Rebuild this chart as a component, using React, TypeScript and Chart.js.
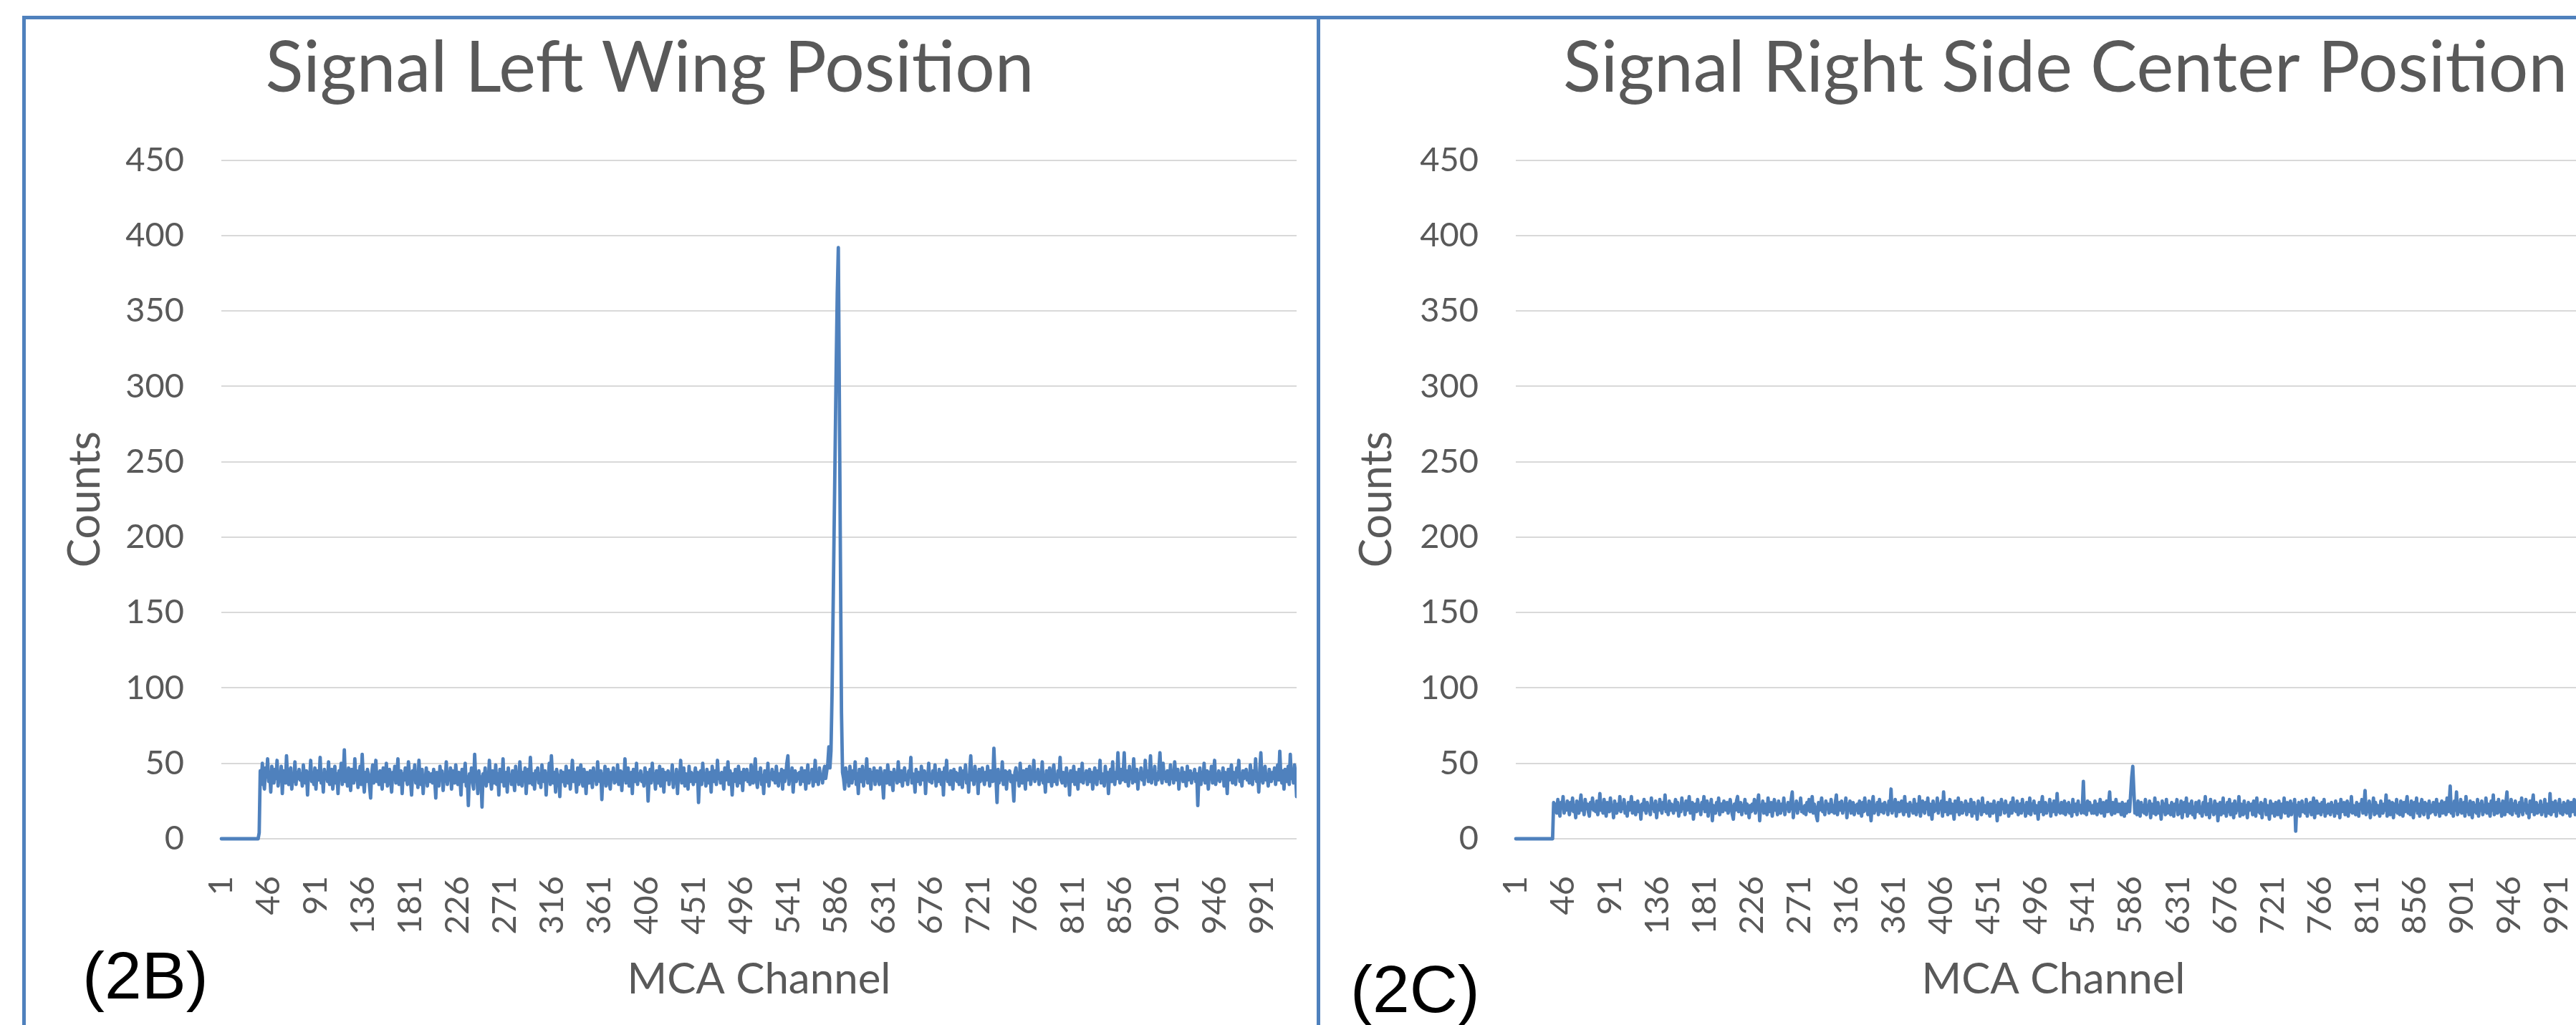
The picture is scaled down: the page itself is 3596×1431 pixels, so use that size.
import React, { useEffect, useRef } from 'react';
import { Chart, registerables } from 'chart.js';

Chart.register(...registerables);

// ---------- data ----------
const CHANNELS: string[] = Array.from({ length: 1024 }, (_, i) => String(i + 1));
const X_TICK_LABELS = ['1', '46', '91', '136', '181', '226', '271', '316', '361', '406', '451', '496', '541', '586', '631', '676', '721', '766', '811', '856', '901', '946', '991'];
const Y_MIN = 0;
const Y_MAX = 450;
const Y_STEP = 50;
const LEFT_TITLE = 'Signal Left Wing Position';
const RIGHT_TITLE = 'Signal Right Side Center Position';
const X_TITLE = 'MCA Channel';
const Y_TITLE = 'Counts';
const LEFT_TAG = '(2B)';
const RIGHT_TAG = '(2C)';

const LEFT_COUNTS: number[] = [
  0,0,0,0,0,0,0,0,0,0,0,0,0,0,0,0,0,0,0,0,0,0,0,0,0,
  0,0,0,0,0,0,0,0,0,0,0,4,45,36,50,39,33,47,41,53,38,44,31,48,42,
  37,46,40,52,35,43,39,48,30,45,41,37,55,40,36,44,47,33,42,38,51,36,44,40,46,
  39,43,35,49,41,37,45,29,44,40,52,38,42,36,47,33,45,41,39,54,37,43,31,46,40,
  44,38,51,36,42,46,33,40,48,37,43,30,45,41,50,36,42,59,38,44,35,47,40,32,46,
  41,37,53,39,45,34,42,48,36,56,40,31,44,38,46,42,35,27,43,49,37,41,52,38,44,
  36,45,40,33,47,41,38,50,35,43,46,39,31,44,40,48,37,42,53,36,41,45,30,43,39,
  47,40,36,51,43,38,29,45,41,49,37,44,34,52,40,36,46,30,42,39,47,35,44,41,38,
  43,37,46,39,27,44,41,35,48,40,45,32,42,38,51,36,43,40,47,33,45,39,37,49,41,
  36,44,40,29,46,38,42,50,35,41,22,43,39,47,37,33,56,40,44,30,45,38,41,21,43,
  39,47,35,42,38,52,40,33,45,41,37,49,36,43,29,46,40,38,53,35,42,44,31,47,39,
  42,36,45,40,32,48,38,43,36,51,41,35,44,39,47,30,42,46,37,54,40,36,43,33,45,
  40,47,37,43,34,49,41,38,45,29,43,40,50,36,55,42,37,44,31,46,39,42,28,45,38,
  44,39,35,48,41,37,45,33,42,52,38,44,40,31,47,36,43,49,39,35,46,41,30,44,40,
  37,45,41,34,47,39,43,36,51,40,38,45,26,43,40,48,35,42,46,38,33,44,40,47,37,
  43,38,49,36,41,45,32,44,39,53,37,42,47,35,40,44,30,46,41,38,50,36,43,39,45,
  38,42,35,47,40,44,25,41,46,37,50,39,43,33,45,40,37,48,35,42,46,31,44,39,41,
  45,36,43,40,49,34,41,38,46,30,44,39,52,37,42,47,35,43,40,33,48,38,44,41,36,
  42,47,38,44,24,41,45,36,50,39,43,35,46,40,37,44,31,48,41,38,45,36,52,40,43,
  37,44,40,33,47,39,42,51,36,45,41,29,43,38,46,40,35,48,42,37,44,32,46,39,41,
  46,38,43,36,49,41,37,45,53,39,34,44,40,47,36,42,30,45,41,38,50,35,43,40,46,
  39,44,37,48,41,35,43,40,46,33,45,38,42,50,55,36,44,39,47,31,42,45,38,43,40,
  44,36,47,40,38,45,33,42,49,37,43,40,46,35,41,52,38,44,36,47,40,42,37,45,48,
  40,45,50,61,47,58,95,150,205,260,315,362,392,290,185,84,44,40,33,47,38,44,35,48,41,
  37,45,40,51,36,43,30,46,41,38,48,35,44,40,53,37,42,46,33,44,39,47,36,42,45,
  40,36,47,42,38,27,45,41,37,49,43,36,44,39,32,46,40,43,37,51,41,38,45,35,43,
  47,39,42,36,45,41,54,37,43,40,31,46,38,44,41,36,48,42,39,45,30,43,40,50,38,
  42,37,45,40,49,35,43,38,46,41,36,44,29,47,40,52,38,43,36,45,41,33,46,39,44,
  38,43,36,47,41,34,45,40,49,37,42,31,45,55,39,43,36,48,40,44,30,46,38,42,47,
  40,36,44,39,48,42,35,45,41,38,60,43,40,24,46,37,44,39,51,36,42,45,33,44,40,
  45,38,42,36,25,44,47,39,43,35,50,40,37,45,41,33,46,39,43,48,36,42,40,52,38,
  43,40,46,36,44,39,51,37,42,31,45,41,38,47,40,35,44,49,38,42,36,45,41,54,39,
  37,44,41,35,47,40,43,29,45,38,42,48,36,44,40,33,46,41,38,50,37,43,40,45,36,
  42,46,38,44,33,41,47,39,36,45,40,52,37,43,41,35,48,39,44,30,42,46,38,51,40,
  36,44,40,57,42,37,46,39,43,57,38,45,41,35,48,40,44,37,53,41,38,46,33,43,40,
  47,39,43,36,52,41,45,38,42,55,37,44,40,48,36,43,39,46,57,41,37,50,40,44,38,
  45,41,36,49,40,44,37,51,42,39,46,33,43,40,47,38,44,41,35,48,39,42,45,37,43,
  40,46,38,43,22,41,47,36,44,39,50,37,42,45,33,44,40,48,37,43,52,36,42,39,45,
  38,43,40,47,35,44,41,30,46,39,42,49,37,44,40,36,47,41,52,38,43,35,45,40,42,
  46,39,43,37,49,41,36,45,40,53,38,43,31,46,57,40,37,44,48,39,42,35,46,41,38,
  44,40,47,36,43,49,39,58,42,37,45,33,46,41,38,48,36,56,40,44,37,49,43,28,
];

const RIGHT_COUNTS: number[] = [
  0,0,0,0,0,0,0,0,0,0,0,0,0,0,0,0,0,0,0,0,0,0,0,0,0,
  0,0,0,0,0,0,0,0,0,0,0,24,18,23,17,26,20,15,24,21,28,17,22,19,25,
  21,16,24,19,27,18,22,14,25,20,17,23,29,19,21,16,26,20,23,18,15,24,20,27,19,
  22,18,25,16,21,30,19,23,17,26,20,15,24,21,18,27,19,22,14,25,20,17,23,19,28,
  18,23,20,26,17,21,15,24,19,22,28,17,20,24,16,21,25,18,22,13,23,19,26,20,17,
  24,19,21,16,27,20,23,18,25,14,22,19,26,21,17,24,20,29,18,22,16,25,19,23,21,
  17,22,26,19,24,15,21,18,27,20,23,16,25,19,22,28,17,21,24,13,20,23,18,26,19,
  22,16,24,20,28,18,21,25,15,23,19,26,12,22,20,17,24,19,27,16,21,23,18,25,20,
  19,24,17,22,26,20,16,13,23,19,25,28,18,21,24,16,22,19,26,17,23,20,14,22,18,
  23,19,26,17,21,24,29,12,22,19,25,17,23,20,16,27,18,22,24,15,21,26,19,23,16,
  25,20,17,23,19,27,16,22,20,24,18,21,26,31,14,22,19,25,17,23,20,27,18,21,17,
  22,16,24,19,26,18,21,28,17,23,20,15,12,24,19,22,27,18,21,16,25,20,23,17,19,
  26,18,22,17,24,29,16,21,24,19,25,17,22,20,27,14,23,19,25,17,21,24,16,22,19,
  23,17,25,20,15,24,18,27,19,22,16,25,21,12,23,28,17,22,19,24,16,26,20,18,23,
  17,24,20,22,16,25,19,33,17,23,19,26,15,21,24,18,22,25,19,16,28,18,23,20,15,
  24,19,22,17,26,20,16,23,18,28,15,22,25,19,17,24,20,27,16,23,19,13,25,18,22,
  19,27,17,23,20,25,15,31,18,22,24,16,21,26,17,23,19,13,25,21,18,27,16,22,24,
  17,22,19,25,16,23,20,18,26,15,22,24,17,21,13,25,19,23,16,27,18,22,20,17,24,
  19,15,23,20,17,25,18,22,12,24,19,16,26,20,23,17,25,18,22,15,21,24,17,27,19,
  22,18,25,16,21,23,17,26,19,22,15,24,20,17,27,16,23,19,25,17,22,20,13,24,18,
  23,28,16,21,24,17,22,19,26,15,23,18,25,20,16,30,18,22,17,24,20,17,25,16,23,
  18,24,17,22,15,26,20,18,23,16,25,19,22,17,21,38,17,23,16,25,19,24,20,17,22,
  17,25,20,16,23,18,26,17,22,24,15,21,25,18,23,31,18,16,24,20,17,26,21,18,23,
  19,16,24,18,15,23,17,22,25,18,30,41,48,32,17,23,16,25,20,15,24,18,22,17,26,
  16,22,19,25,14,23,20,17,27,16,22,24,17,21,13,25,18,23,16,26,17,22,20,16,24,
  18,15,23,20,26,16,22,17,25,14,21,24,18,27,15,23,17,22,25,16,21,14,24,18,22,
  25,17,21,15,24,18,28,16,22,23,14,26,18,21,16,25,17,23,12,22,24,16,21,27,17,
  22,15,24,18,26,16,21,23,14,25,17,22,19,28,15,23,20,16,25,17,22,14,24,19,20,
  23,16,25,19,15,27,18,22,17,24,14,23,20,26,16,22,18,13,25,17,23,20,15,24,18,
  16,25,19,14,23,18,27,17,22,24,15,21,25,16,23,18,26,5,22,17,24,15,21,25,18,
  22,17,26,15,23,18,24,16,21,27,14,22,25,17,23,19,16,24,18,26,15,22,17,23,20,
  16,24,18,22,15,25,19,17,23,14,26,18,22,24,16,21,25,15,23,18,28,17,22,20,16,
  24,18,15,23,20,26,17,22,32,16,23,18,25,14,22,19,27,16,24,17,22,18,15,25,20,
  17,23,19,29,15,22,25,16,21,24,14,23,18,26,17,22,16,25,19,15,24,18,23,28,17,
  22,16,25,18,14,24,19,27,17,23,15,22,26,18,16,24,19,23,14,25,17,22,18,24,19,
  16,26,18,23,15,22,25,17,21,24,16,27,18,23,35,17,22,15,25,19,31,16,23,18,26,
  17,22,24,15,28,18,23,16,25,19,14,24,18,22,17,26,15,23,19,25,16,22,18,27,17,
  23,18,15,25,19,29,16,22,24,17,26,18,23,15,25,19,16,24,31,18,22,17,26,16,23,
  19,25,17,22,15,24,18,27,16,23,19,26,17,22,14,25,18,23,29,16,21,24,17,22,18,
  25,16,22,18,26,15,23,19,17,30,16,24,18,22,25,15,23,19,26,17,22,16,24,18,23,
  17,25,19,15,24,18,22,26,16,23,19,17,25,15,22,24,18,16,26,19,23,17,22,18,
];

// ---------- styling ----------
const FONT = "Lato, 'Open Sans', sans-serif";
const TEXT_COLOR = '#595959';
const LINE_COLOR = '#4F81BD';
const GRID_COLOR = '#D9D9D9';
const PAGE_H = 1431;

type ChartProps = {
  left: number;
  width: number;
  yAxisWidth: number;
  rightGap: number;
  yTitlePad: number;
  title: string;
  counts: number[];
};

function SpectrumChart(p: ChartProps) {
  const ref = useRef<HTMLCanvasElement>(null);
  useEffect(() => {
    const canvas = ref.current;
    if (!canvas) return;
    const chart = new Chart(canvas, {
      type: 'line',
      data: {
        labels: CHANNELS,
        datasets: [
          {
            data: p.counts,
            borderColor: LINE_COLOR,
            borderWidth: 4.8,
            pointRadius: 0,
            pointHoverRadius: 0,
            fill: false,
            tension: 0,
            borderJoinStyle: 'round',
            borderCapStyle: 'round',
            clip: false as any,
          },
        ],
      },
      options: {
        animation: false,
        responsive: false,
        maintainAspectRatio: false,
        devicePixelRatio: 1,
        events: [],
        layout: { padding: 0 },
        plugins: {
          legend: { display: false },
          tooltip: { enabled: false },
          title: {
            display: true,
            text: p.title,
            color: TEXT_COLOR,
            font: { family: FONT, size: 98, weight: 'normal', lineHeight: 1.2 },
            padding: { top: 38, bottom: 68 },
          },
        },
        scales: {
          x: {
            type: 'category',
            offset: false,
            grid: { display: false, drawTicks: false },
            border: { display: false },
            ticks: {
              autoSkip: false,
              maxRotation: 90,
              minRotation: 90,
              padding: 52,
              color: TEXT_COLOR,
              font: { family: FONT, size: 47 },
              callback: (_v: any, i: number) => (X_TICK_LABELS.includes(CHANNELS[i]) ? CHANNELS[i] : ''),
            },
            title: {
              display: true,
              text: X_TITLE,
              color: TEXT_COLOR,
              font: { family: FONT, size: 60, lineHeight: 1.2 },
              padding: { top: 0, bottom: 27 },
            },
            afterFit: (s: any) => {
              s.height = PAGE_H - 1171;
              s.paddingLeft = 0;
              s.paddingRight = 0;
            },
          },
          y: {
            type: 'linear',
            min: Y_MIN,
            max: Y_MAX,
            grid: { color: GRID_COLOR, lineWidth: 2, drawTicks: false },
            border: { display: false },
            ticks: {
              stepSize: Y_STEP,
              padding: 52,
              color: TEXT_COLOR,
              font: { family: FONT, size: 47 },
            },
            title: {
              display: true,
              text: Y_TITLE,
              color: TEXT_COLOR,
              font: { family: FONT, size: 61, lineHeight: 1.2 },
              padding: { top: p.yTitlePad, bottom: 0 },
            },
            afterFit: (s: any) => {
              s.width = p.yAxisWidth;
              s.paddingTop = 0;
              s.paddingBottom = 0;
            },
          },
          y2: {
            type: 'linear',
            position: 'right',
            display: p.rightGap > 0,
            grid: { display: false, drawTicks: false },
            border: { display: false },
            ticks: { display: false },
            afterFit: (s: any) => {
              s.width = p.rightGap;
              s.paddingTop = 0;
              s.paddingBottom = 0;
            },
          },
        },
      } as any,
    });
    return () => chart.destroy();
  }, []);
  return (
    <canvas
      ref={ref}
      width={p.width}
      height={PAGE_H}
      style={{ position: 'absolute', left: p.left, top: 0, width: p.width, height: PAGE_H }}
    />
  );
}

const panelStyle = (left: number): React.CSSProperties => ({
  position: 'absolute',
  left,
  top: 22,
  width: 1812,
  height: 1500,
  boxSizing: 'border-box',
  border: `5px solid ${LINE_COLOR}`,
  pointerEvents: 'none',
});

const tagStyle = (left: number, top: number): React.CSSProperties => ({
  position: 'absolute',
  left,
  top,
  fontFamily: "'Liberation Sans', Arial, sans-serif",
  fontSize: 93,
  lineHeight: 1,
  color: '#000',
  whiteSpace: 'nowrap',
});

export default function App() {
  return (
    <div
      style={{
        position: 'fixed',
        left: 0,
        top: 0,
        width: 3596,
        height: PAGE_H,
        overflow: 'hidden',
        background: '#ffffff',
      }}
    >
      <SpectrumChart left={4} width={1806} yAxisWidth={305} rightGap={0} yTitlePad={79} title={LEFT_TITLE} counts={LEFT_COUNTS} />
      <SpectrumChart left={1811} width={2144} yAxisWidth={305} rightGap={338} yTitlePad={75} title={RIGHT_TITLE} counts={RIGHT_COUNTS} />
      <div style={panelStyle(31)} />
      <div style={panelStyle(1838)} />
      <div style={tagStyle(115, 1316)}>{LEFT_TAG}</div>
      <div style={tagStyle(1885, 1335)}>{RIGHT_TAG}</div>
    </div>
  );
}
